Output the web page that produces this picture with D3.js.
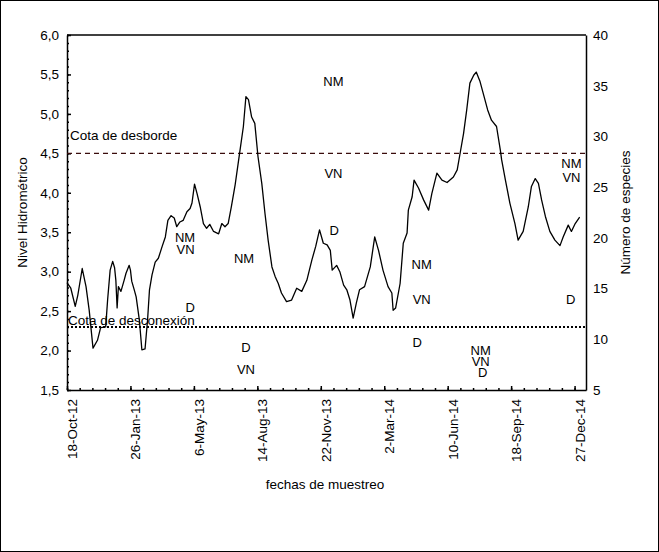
<!DOCTYPE html>
<html>
<head>
<meta charset="utf-8">
<script src="https://cdn.jsdelivr.net/npm/d3@7/dist/d3.min.js"></script>
<style>
  body { margin: 0; background: #fff; }
  text { font-family: "Liberation Sans", Arial, sans-serif; font-size: 13.5px; fill: #000; }
</style>
</head>
<body>
<script>
// Nivel hidrométrico (fechas y valores)
var fechas = ["2012-10-18","2012-10-24","2012-10-31","2012-11-04","2012-11-11","2012-11-17","2012-11-22","2012-11-28",
  "2012-12-05","2012-12-10","2012-12-18","2012-12-21","2012-12-25","2012-12-29","2013-01-01","2013-01-03","2013-01-05",
  "2013-01-07","2013-01-11","2013-01-16","2013-01-19","2013-01-24","2013-01-26","2013-01-28","2013-02-01","2013-02-04",
  "2013-02-09","2013-02-13","2013-02-18","2013-02-22","2013-02-25","2013-03-01","2013-03-06","2013-03-11","2013-03-17",
  "2013-03-22","2013-03-26","2013-03-31","2013-04-05","2013-04-09","2013-04-14","2013-04-19","2013-04-25","2013-04-30",
  "2013-05-03","2013-05-07","2013-05-11","2013-05-16","2013-05-21","2013-05-26","2013-05-31","2013-06-06","2013-06-14",
  "2013-06-19","2013-06-24","2013-06-29","2013-07-04","2013-07-10","2013-07-17","2013-07-23","2013-07-27","2013-07-31",
  "2013-08-05","2013-08-10","2013-08-15","2013-08-21","2013-08-26","2013-08-31","2013-09-06","2013-09-11","2013-09-16",
  "2013-09-21","2013-09-29","2013-10-07","2013-10-15","2013-10-23","2013-10-31","2013-11-08","2013-11-14","2013-11-20",
  "2013-11-26","2013-12-02","2013-12-07","2013-12-10","2013-12-17","2013-12-22","2013-12-28","2014-01-02","2014-01-07",
  "2014-01-12","2014-01-17","2014-01-22","2014-01-30","2014-02-08","2014-02-15","2014-02-21","2014-02-28","2014-03-08",
  "2014-03-14","2014-03-16","2014-03-20","2014-03-27","2014-04-01","2014-04-07","2014-04-09","2014-04-15","2014-04-18",
  "2014-04-25","2014-05-03","2014-05-11","2014-05-16","2014-05-24","2014-06-01","2014-06-09","2014-06-19","2014-06-25",
  "2014-06-30","2014-07-05","2014-07-10","2014-07-15","2014-07-21","2014-07-25","2014-07-31","2014-08-05","2014-08-12",
  "2014-08-18","2014-08-26","2014-09-01","2014-09-03","2014-09-09","2014-09-16","2014-09-24","2014-09-29","2014-10-07",
  "2014-10-15","2014-10-20","2014-10-26","2014-10-31","2014-11-05","2014-11-11","2014-11-18","2014-11-26","2014-12-04",
  "2014-12-09","2014-12-17","2014-12-22","2014-12-28","2015-01-04"];
var nivel = [2.86,2.79,2.56,2.70,3.04,2.81,2.51,2.03,
  2.13,2.29,2.30,2.64,3.02,3.13,3.05,2.89,2.54,
  2.81,2.75,2.89,2.98,3.08,3.02,2.88,2.77,2.68,
  2.39,2.01,2.02,2.39,2.77,2.96,3.12,3.17,3.32,
  3.44,3.65,3.71,3.68,3.57,3.63,3.65,3.76,3.80,
  3.87,4.11,3.99,3.82,3.61,3.55,3.60,3.51,3.48,
  3.61,3.57,3.61,3.82,4.10,4.50,4.84,5.22,5.18,
  4.96,4.88,4.46,4.12,3.74,3.40,3.06,2.94,2.85,
  2.73,2.62,2.64,2.79,2.75,2.89,3.15,3.32,3.53,
  3.36,3.34,3.27,3.02,3.08,3.00,2.83,2.77,2.64,
  2.41,2.60,2.77,2.81,3.06,3.44,3.27,3.02,2.81,
  2.73,2.51,2.54,2.85,3.36,3.49,3.78,3.95,4.16,
  4.06,3.91,3.78,3.99,4.25,4.16,4.13,4.20,4.29,
  4.52,4.75,5.05,5.39,5.49,5.53,5.41,5.26,5.05,
  4.92,4.84,4.54,4.42,4.16,3.87,3.61,3.40,3.51,
  3.82,4.08,4.18,4.12,3.91,3.70,3.51,3.40,3.33,
  3.44,3.59,3.51,3.61,3.69];

// Número de especies por grupo (NM, VN, D)
var etiquetas = ["NM","VN","D","NM","D","VN","NM","VN","D","NM","VN","D","NM","VN","D","NM","VN","D"];
var etiquetaFechas = ["2013-04-22","2013-04-23","2013-04-30","2013-07-24","2013-07-27","2013-07-27",
  "2013-12-12","2013-12-12","2013-12-13","2014-04-30","2014-04-30","2014-04-23",
  "2014-08-01","2014-08-01","2014-08-04","2014-12-22","2014-12-22","2014-12-21"];
var especies = [20.1,18.9,13.2,18.0,9.2,7.0,35.4,26.4,20.7,17.4,13.9,9.7,8.9,7.8,6.7,27.3,26.0,13.9];

// Cotas de referencia
var cotaDesborde = 4.5;
var cotaDesconexion = 2.3;

// Marcas de los ejes
var xTicks = ["2012-10-18","2013-01-26","2013-05-06","2013-08-14","2013-11-22","2014-03-02","2014-06-10","2014-09-18","2014-12-27"];
var xDominio = ["2012-10-18","2015-01-14"];
var yTicks = [1.5,2.0,2.5,3.0,3.5,4.0,4.5,5.0,5.5,6.0];
var y2Ticks = [5,10,15,20,25,30,35,40];

var parseDate = d3.timeParse("%Y-%m-%d");
var width = 659, height = 552;
var margin = { top: 35, right: 73, bottom: 162, left: 67 };
var plotWidth = width - margin.left - margin.right;
var plotHeight = height - margin.top - margin.bottom;

var svg = d3.select("body").append("svg")
  .attr("width", width)
  .attr("height", height);

// marco exterior
svg.append("rect")
  .attr("x", 0.5).attr("y", 0.5)
  .attr("width", width - 1).attr("height", height - 1)
  .attr("fill", "none").attr("stroke", "#000");

var g = svg.append("g")
  .attr("transform", "translate(" + margin.left + "," + margin.top + ")");

// Scales
var xScale = d3.scaleTime().domain(xDominio.map(parseDate)).range([0, plotWidth]);
var yScale = d3.scaleLinear().domain([1.5, 6]).range([plotHeight, 0]);
var y2Scale = d3.scaleLinear().domain([5, 40]).range([plotHeight, 0]);

var coma = function(d) { return d3.format(".1f")(d).replace(".", ","); };

// minor ticks (cada 20 días y cada 0,1)
g.append("g")
  .attr("transform", "translate(0," + plotHeight + ")")
  .call(d3.axisBottom(xScale).tickValues(d3.timeDay.range(parseDate(xTicks[0]), parseDate(xDominio[1]), 20)).tickSize(-2).tickFormat(""))
  .call(function(a) { a.select(".domain").remove(); });
g.append("g")
  .call(d3.axisLeft(yScale).tickValues(d3.range(15, 61).map(function(v) { return v / 10; })).tickSize(-2).tickFormat(""))
  .call(function(a) { a.select(".domain").remove(); });

// x axis
var xAxis = g.append("g")
  .attr("transform", "translate(0," + plotHeight + ")")
  .call(d3.axisBottom(xScale).tickValues(xTicks.map(parseDate)).tickSize(-4).tickSizeOuter(0)
    .tickFormat(d3.timeFormat("%-d-%b-%y")));
xAxis.selectAll(".tick text")
  .attr("transform", "rotate(-90)")
  .attr("text-anchor", "end")
  .attr("x", -9)
  .attr("y", 0)
  .attr("dy", "0.7em");

// y axis (izquierdo)
g.append("g")
  .call(d3.axisLeft(yScale).tickValues(yTicks).tickSize(-4).tickSizeOuter(0).tickPadding(8).tickFormat(coma));

// y axis (derecho)
g.append("g")
  .attr("transform", "translate(" + plotWidth + ",0)")
  .call(d3.axisRight(y2Scale).tickValues(y2Ticks).tickSize(0).tickPadding(7));

g.selectAll(".domain").attr("stroke", "#000").attr("stroke-width", 1.5);
g.selectAll(".tick line").attr("stroke", "#000").attr("stroke-width", 1.5);
g.selectAll(".tick text").style("font-size", "13.5px").attr("fill", "#000");

// borde superior
g.append("line")
  .attr("x1", 0).attr("x2", plotWidth).attr("y1", 0).attr("y2", 0)
  .attr("stroke", "#000").attr("stroke-width", 1.5);

// cotas
g.append("line")
  .attr("x1", 0).attr("x2", plotWidth)
  .attr("y1", yScale(cotaDesborde)).attr("y2", yScale(cotaDesborde))
  .attr("stroke", "#3a0c0c").attr("stroke-width", 1.3).attr("stroke-dasharray", "5,4");
g.append("text")
  .attr("x", 3).attr("y", yScale(cotaDesborde) - 13)
  .text("Cota de desborde");

g.append("line")
  .attr("x1", 0).attr("x2", plotWidth)
  .attr("y1", yScale(cotaDesconexion)).attr("y2", yScale(cotaDesconexion))
  .attr("stroke", "#000").attr("stroke-width", 2).attr("stroke-dasharray", "2,2");
g.append("text")
  .attr("x", 1).attr("y", yScale(cotaDesconexion) - 1.5)
  .text("Cota de desconexión");

// Add the water level line
var data = fechas.map(function(f, i) { return { date: parseDate(f), nivel: nivel[i] }; });
var nivelLine = d3.line()
  .x(function(d) { return xScale(d.date); })
  .y(function(d) { return yScale(d.nivel); });
g.append("path")
  .datum(data)
  .attr("d", nivelLine)
  .attr("fill", "none")
  .attr("stroke", "#000")
  .attr("stroke-width", 1.3)
  .attr("stroke-linejoin", "round");

// etiquetas de especies
g.selectAll(".etiqueta")
  .data(etiquetas)
  .enter().append("text")
  .attr("class", "etiqueta")
  .attr("x", function(d, i) { return xScale(parseDate(etiquetaFechas[i])); })
  .attr("y", function(d, i) { return y2Scale(especies[i]); })
  .attr("dy", "0.36em")
  .attr("text-anchor", "middle")
  .style("font-size", "13px")
  .text(function(d) { return d; });

// axis labels
svg.append("text")
  .attr("transform", "rotate(-90)")
  .attr("x", -(margin.top + plotHeight / 2))
  .attr("y", 22)
  .attr("dy", "0.36em")
  .style("text-anchor", "middle")
  .text("Nivel Hidrométrico");

svg.append("text")
  .attr("transform", "rotate(-90)")
  .attr("x", -(margin.top + plotHeight / 2))
  .attr("y", 625)
  .attr("dy", "0.36em")
  .style("text-anchor", "middle")
  .text("Número de especies");

svg.append("text")
  .attr("x", 325)
  .attr("y", 484)
  .attr("dy", "0.36em")
  .style("text-anchor", "middle")
  .text("fechas de muestreo");
</script>
</body>
</html>
